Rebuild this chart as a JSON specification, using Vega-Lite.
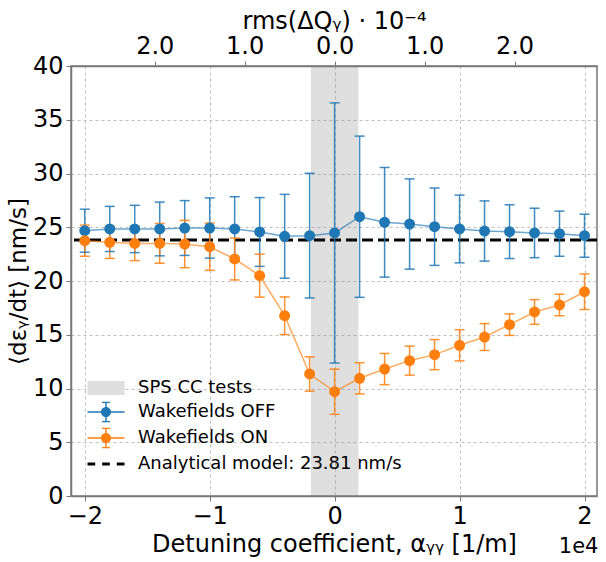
{
  "$schema": "https://vega.github.io/schema/vega-lite/v6.json",
  "width": 526,
  "height": 430,
  "autosize": {"type": "none"},
  "padding": {"left": 71, "top": 66, "right": 9, "bottom": 66},
  "background": "white",
  "title": {"text": "1e4", "orient": "bottom", "anchor": "end", "fontSize": 21, "font": "DejaVu Sans", "fontWeight": "normal", "color": "#000000", "offset": -20},
  "config": {
    "font": "DejaVu Sans",
    "view": {"stroke": "#777777", "strokeWidth": 1.5},
    "axis": {
      "labelFont": "DejaVu Sans", "titleFont": "DejaVu Sans",
      "labelFontSize": 24, "titleFontSize": 24,
      "labelColor": "#000000", "titleColor": "#000000", "titleFontWeight": "normal",
      "domainColor": "#777777", "domainWidth": 1.5, "tickColor": "#777777", "tickSize": 5, "tickWidth": 1,
      "gridColor": "#b0b0b0", "gridDash": [3, 3], "gridWidth": 0.8
    },
    "axisY": {"titleFontSize": 23, "titlePadding": 2}
  },
  "datasets": {
    "pts": [
      {"a": -2.0, "series": "Wakefields OFF", "v": 24.68, "lo": 22.68, "hi": 26.68},
      {"a": -1.8, "series": "Wakefields OFF", "v": 24.84, "lo": 22.74, "hi": 26.94},
      {"a": -1.6, "series": "Wakefields OFF", "v": 24.84, "lo": 22.64, "hi": 27.04},
      {"a": -1.4, "series": "Wakefields OFF", "v": 24.84, "lo": 22.34, "hi": 27.34},
      {"a": -1.2, "series": "Wakefields OFF", "v": 24.93, "lo": 22.38, "hi": 27.48},
      {"a": -1.0, "series": "Wakefields OFF", "v": 24.93, "lo": 22.13, "hi": 27.73},
      {"a": -0.8, "series": "Wakefields OFF", "v": 24.84, "lo": 21.84, "hi": 27.84},
      {"a": -0.6, "series": "Wakefields OFF", "v": 24.56, "lo": 21.36, "hi": 27.76},
      {"a": -0.4, "series": "Wakefields OFF", "v": 24.16, "lo": 20.26, "hi": 28.06},
      {"a": -0.2, "series": "Wakefields OFF", "v": 24.22, "lo": 18.42, "hi": 30.02},
      {"a": 0.0, "series": "Wakefields OFF", "v": 24.47, "lo": 12.37, "hi": 36.57},
      {"a": 0.2, "series": "Wakefields OFF", "v": 25.98, "lo": 18.48, "hi": 33.48},
      {"a": 0.4, "series": "Wakefields OFF", "v": 25.46, "lo": 20.36, "hi": 30.56},
      {"a": 0.6, "series": "Wakefields OFF", "v": 25.3, "lo": 21.1, "hi": 29.5},
      {"a": 0.8, "series": "Wakefields OFF", "v": 25.05, "lo": 21.45, "hi": 28.65},
      {"a": 1.0, "series": "Wakefields OFF", "v": 24.84, "lo": 21.69, "hi": 27.99},
      {"a": 1.2, "series": "Wakefields OFF", "v": 24.65, "lo": 21.85, "hi": 27.45},
      {"a": 1.4, "series": "Wakefields OFF", "v": 24.59, "lo": 22.09, "hi": 27.09},
      {"a": 1.6, "series": "Wakefields OFF", "v": 24.47, "lo": 22.17, "hi": 26.77},
      {"a": 1.8, "series": "Wakefields OFF", "v": 24.4, "lo": 22.3, "hi": 26.5},
      {"a": 2.0, "series": "Wakefields OFF", "v": 24.22, "lo": 22.22, "hi": 26.22},
      {"a": -2.0, "series": "Wakefields ON", "v": 23.75, "lo": 22.3, "hi": 25.2},
      {"a": -1.8, "series": "Wakefields ON", "v": 23.6, "lo": 22.1, "hi": 25.1},
      {"a": -1.6, "series": "Wakefields ON", "v": 23.5, "lo": 21.9, "hi": 25.1},
      {"a": -1.4, "series": "Wakefields ON", "v": 23.5, "lo": 21.65, "hi": 25.35},
      {"a": -1.2, "series": "Wakefields ON", "v": 23.44, "lo": 21.24, "hi": 25.64},
      {"a": -1.0, "series": "Wakefields ON", "v": 23.19, "lo": 20.99, "hi": 25.39},
      {"a": -0.8, "series": "Wakefields ON", "v": 22.05, "lo": 20.1, "hi": 24.0},
      {"a": -0.6, "series": "Wakefields ON", "v": 20.5, "lo": 18.5, "hi": 22.5},
      {"a": -0.4, "series": "Wakefields ON", "v": 16.77, "lo": 15.02, "hi": 18.52},
      {"a": -0.2, "series": "Wakefields ON", "v": 11.35, "lo": 9.75, "hi": 12.95},
      {"a": 0.0, "series": "Wakefields ON", "v": 9.7, "lo": 7.6, "hi": 11.8},
      {"a": 0.2, "series": "Wakefields ON", "v": 10.95, "lo": 9.5, "hi": 12.4},
      {"a": 0.4, "series": "Wakefields ON", "v": 11.81, "lo": 10.36, "hi": 13.26},
      {"a": 0.6, "series": "Wakefields ON", "v": 12.59, "lo": 11.24, "hi": 13.94},
      {"a": 0.8, "series": "Wakefields ON", "v": 13.15, "lo": 11.75, "hi": 14.55},
      {"a": 1.0, "series": "Wakefields ON", "v": 14.02, "lo": 12.57, "hi": 15.47},
      {"a": 1.2, "series": "Wakefields ON", "v": 14.79, "lo": 13.54, "hi": 16.04},
      {"a": 1.4, "series": "Wakefields ON", "v": 15.94, "lo": 14.94, "hi": 16.94},
      {"a": 1.6, "series": "Wakefields ON", "v": 17.12, "lo": 15.97, "hi": 18.27},
      {"a": 1.8, "series": "Wakefields ON", "v": 17.77, "lo": 16.77, "hi": 18.77},
      {"a": 2.0, "series": "Wakefields ON", "v": 19.0, "lo": 17.35, "hi": 20.65}
    ],
    "band": [{"x0": -0.19, "x1": 0.19}],
    "model": [{"y": 23.81}],
    "leg": [
      {"entry": "SPS CC tests", "xx": null, "yy": null},
      {"entry": "Wakefields OFF", "xx": null, "yy": null},
      {"entry": "Wakefields ON", "xx": null, "yy": null},
      {"entry": "Analytical model: 23.81 nm/s", "xx": null, "yy": null}
    ]
  },
  "resolve": {"axis": {"x": "independent"}},
  "layer": [
    {
      "layer": [
        {
          "data": {"name": "band"},
          "mark": {"type": "rect", "color": "#808080", "opacity": 0.25},
          "encoding": {
            "x": {"field": "x0", "type": "quantitative", "scale": {"domain": [-2.11, 2.1], "nice": false, "zero": false},
              "axis": {"orient": "bottom", "values": [-2, -1, 0, 1, 2], "format": "d", "grid": true, "title": "Detuning coefficient, αᵧᵧ [1/m]", "labelPadding": 3, "titlePadding": 4}},
            "x2": {"field": "x1"}
          }
        },
        {
          "data": {"name": "model"},
          "mark": {"type": "rule", "color": "#000000", "strokeWidth": 3, "strokeDash": [11, 5]},
          "encoding": {
            "y": {"field": "y", "type": "quantitative", "scale": {"domain": [0, 40], "nice": false},
              "axis": {"values": [0, 5, 10, 15, 20, 25, 30, 35, 40], "grid": true, "title": "⟨dεᵧ/dt⟩ [nm/s]", "labelPadding": 3}}
          }
        },
        {
          "data": {"name": "pts"},
          "mark": {"type": "rule", "strokeWidth": 1.5, "opacity": 0.85},
          "encoding": {
            "x": {"field": "a", "type": "quantitative", "scale": {"domain": [-2.11, 2.1], "nice": false, "zero": false},
              "axis": {"orient": "bottom", "values": [-2, -1, 0, 1, 2], "format": "d", "grid": true, "title": "Detuning coefficient, αᵧᵧ [1/m]", "labelPadding": 3, "titlePadding": 4}},
            "y": {"field": "lo", "type": "quantitative", "scale": {"domain": [0, 40], "nice": false},
              "axis": {"values": [0, 5, 10, 15, 20, 25, 30, 35, 40], "grid": true, "title": "⟨dεᵧ/dt⟩ [nm/s]", "labelPadding": 3}},
            "y2": {"field": "hi"},
            "color": {"field": "series", "type": "nominal", "legend": null,
              "scale": {"domain": ["Wakefields OFF", "Wakefields ON"], "range": ["#1f77b4", "#ff7f0e"]}}
          }
        },
        {
          "data": {"name": "pts"},
          "mark": {"type": "tick", "orient": "horizontal", "size": 10, "thickness": 1.5, "opacity": 0.85},
          "encoding": {
            "x": {"field": "a", "type": "quantitative", "scale": {"domain": [-2.11, 2.1], "nice": false, "zero": false},
              "axis": {"orient": "bottom", "values": [-2, -1, 0, 1, 2], "format": "d", "grid": true, "title": "Detuning coefficient, αᵧᵧ [1/m]", "labelPadding": 3, "titlePadding": 4}},
            "y": {"field": "lo", "type": "quantitative", "scale": {"domain": [0, 40], "nice": false},
              "axis": {"values": [0, 5, 10, 15, 20, 25, 30, 35, 40], "grid": true, "title": "⟨dεᵧ/dt⟩ [nm/s]", "labelPadding": 3}},
            "color": {"field": "series", "type": "nominal", "legend": null}
          }
        },
        {
          "data": {"name": "pts"},
          "mark": {"type": "tick", "orient": "horizontal", "size": 10, "thickness": 1.5, "opacity": 0.85},
          "encoding": {
            "x": {"field": "a", "type": "quantitative", "scale": {"domain": [-2.11, 2.1], "nice": false, "zero": false},
              "axis": {"orient": "bottom", "values": [-2, -1, 0, 1, 2], "format": "d", "grid": true, "title": "Detuning coefficient, αᵧᵧ [1/m]", "labelPadding": 3, "titlePadding": 4}},
            "y": {"field": "hi", "type": "quantitative", "scale": {"domain": [0, 40], "nice": false},
              "axis": {"values": [0, 5, 10, 15, 20, 25, 30, 35, 40], "grid": true, "title": "⟨dεᵧ/dt⟩ [nm/s]", "labelPadding": 3}},
            "color": {"field": "series", "type": "nominal", "legend": null}
          }
        },
        {
          "data": {"name": "pts"},
          "mark": {"type": "line", "strokeWidth": 1.5, "opacity": 0.65},
          "encoding": {
            "x": {"field": "a", "type": "quantitative", "scale": {"domain": [-2.11, 2.1], "nice": false, "zero": false},
              "axis": {"orient": "bottom", "values": [-2, -1, 0, 1, 2], "format": "d", "grid": true, "title": "Detuning coefficient, αᵧᵧ [1/m]", "labelPadding": 3, "titlePadding": 4}},
            "y": {"field": "v", "type": "quantitative", "scale": {"domain": [0, 40], "nice": false},
              "axis": {"values": [0, 5, 10, 15, 20, 25, 30, 35, 40], "grid": true, "title": "⟨dεᵧ/dt⟩ [nm/s]", "labelPadding": 3}},
            "color": {"field": "series", "type": "nominal", "legend": null}
          }
        },
        {
          "data": {"name": "pts"},
          "mark": {"type": "point", "shape": "circle", "filled": true, "size": 120, "opacity": 1},
          "encoding": {
            "x": {"field": "a", "type": "quantitative", "scale": {"domain": [-2.11, 2.1], "nice": false, "zero": false},
              "axis": {"orient": "bottom", "values": [-2, -1, 0, 1, 2], "format": "d", "grid": true, "title": "Detuning coefficient, αᵧᵧ [1/m]", "labelPadding": 3, "titlePadding": 4}},
            "y": {"field": "v", "type": "quantitative", "scale": {"domain": [0, 40], "nice": false},
              "axis": {"values": [0, 5, 10, 15, 20, 25, 30, 35, 40], "grid": true, "title": "⟨dεᵧ/dt⟩ [nm/s]", "labelPadding": 3}},
            "color": {"field": "series", "type": "nominal", "legend": null}
          }
        }
      ]
    },
    {
      "data": {"name": "leg"},
      "mark": {"type": "point", "filled": true, "opacity": 1},
      "encoding": {
        "x": {"field": "xx", "type": "quantitative", "scale": {"domain": [-2.11, 2.1], "nice": false, "zero": false},
          "axis": {"orient": "top", "values": [-1.44, -0.72, 0, 0.72, 1.44], "labelExpr": "format(abs(datum.value)/0.72, '.1f')", "grid": false, "title": "rms(ΔQᵧ) · 10⁻⁴", "labelPadding": 3, "titlePadding": 1}},
        "y": {"field": "yy", "type": "quantitative", "scale": {"domain": [0, 40], "nice": false},
          "axis": {"values": [0, 5, 10, 15, 20, 25, 30, 35, 40], "grid": true, "title": "⟨dεᵧ/dt⟩ [nm/s]", "labelPadding": 3}},
        "fill": {"field": "entry", "type": "nominal",
          "scale": {"domain": ["SPS CC tests", "Wakefields OFF", "Wakefields ON", "Analytical model: 23.81 nm/s"], "range": ["#dfdfdf", "#1f77b4", "#ff7f0e", "#000000"]},
          "legend": {"orient": "none", "legendX": 23, "legendY": 310, "title": null, "labelFontSize": 18, "labelFont": "DejaVu Sans", "labelColor": "#000000", "labelLimit": 0, "symbolSize": 576, "rowPadding": 3, "labelOffset": 20, "padding": 0, "symbolStrokeWidth": 0, "symbolOpacity": 1}},
        "shape": {"field": "entry", "type": "nominal",
          "scale": {"domain": ["SPS CC tests", "Wakefields OFF", "Wakefields ON", "Analytical model: 23.81 nm/s"],
            "range": [
              "M-1.54,-0.58H1.54V0.58H-1.54Z",
              "M-1.54,-0.06H1.54V0.06H-1.54Z M-0.06,-0.8H0.06V0.8H-0.06Z M-0.33,-0.86H0.33V-0.74H-0.33Z M-0.33,0.74H0.33V0.86H-0.33Z M0.42,0A0.42,0.42 0 1,1 -0.42,0A0.42,0.42 0 1,1 0.42,0Z",
              "M-1.54,-0.06H1.54V0.06H-1.54Z M-0.06,-0.8H0.06V0.8H-0.06Z M-0.33,-0.86H0.33V-0.74H-0.33Z M-0.33,0.74H0.33V0.86H-0.33Z M0.42,0A0.42,0.42 0 1,1 -0.42,0A0.42,0.42 0 1,1 0.42,0Z",
              "M-1.54,-0.12H-0.9V0.12H-1.54Z M-0.32,-0.12H0.32V0.12H-0.32Z M0.9,-0.12H1.54V0.12H0.9Z"
            ]},
          "legend": {"orient": "none", "legendX": 23, "legendY": 310, "title": null, "labelFontSize": 18, "labelFont": "DejaVu Sans", "labelColor": "#000000", "labelLimit": 0, "symbolSize": 576, "rowPadding": 3, "labelOffset": 20, "padding": 0, "symbolStrokeWidth": 0, "symbolOpacity": 1}}
      }
    }
  ]
}
